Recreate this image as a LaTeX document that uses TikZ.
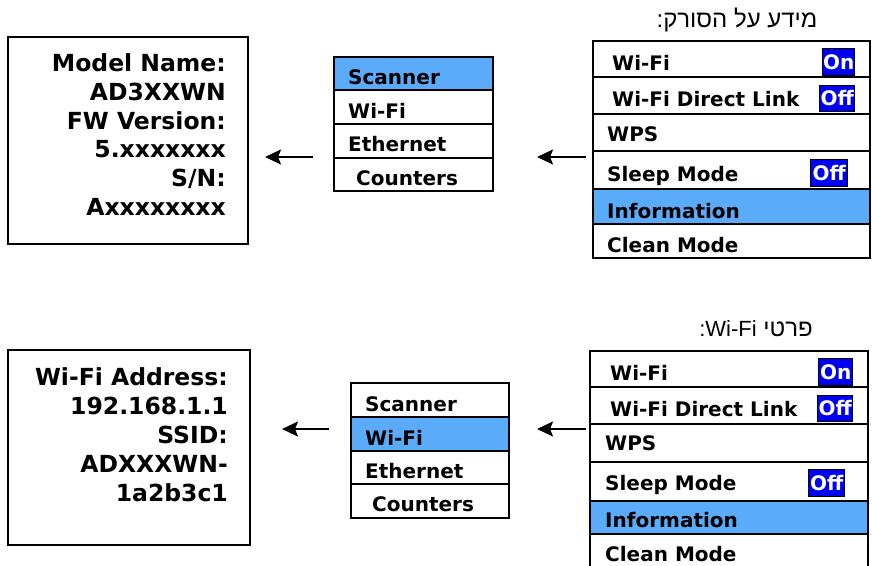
\documentclass[tikz,border=0pt]{standalone}
\usepackage{fontspec}
\setmainfont{DejaVu Sans}
\newfontfamily\hebfont[Script=Hebrew]{Liberation Sans}
\TeXXeTstate=1
\usetikzlibrary{arrows.meta}
\definecolor{selblue}{RGB}{90,172,250}
\definecolor{badgeblue}{RGB}{0,0,240}
\tikzset{
  rowbox/.style={draw=black, line width=2.2pt, inner sep=0pt, anchor=north west},
  panelbox/.style={draw=black, line width=2.2pt, inner sep=0pt, anchor=north west},
  itemtext/.style={anchor=base west, inner sep=0pt, font=\fontsize{20}{24}\selectfont\bfseries},
  infotext/.style={anchor=base east, inner sep=0pt, font=\fontsize{23.5}{28}\selectfont\bfseries},
  badge/.style={fill=badgeblue, draw=black, line width=1.3pt, text=white, inner sep=0pt,
    anchor=north west, font=\fontsize{20}{24}\selectfont\bfseries, text height=14pt, text depth=0pt},
  arr/.style={line width=2.2pt, -{Stealth[length=16pt, width=15pt, inset=3pt]}},
  title/.style={anchor=base, inner sep=0pt, font=\fontsize{24}{28}\selectfont\hebfont}
}
\begin{document}
\begin{tikzpicture}[x=1pt, y=-1pt]
\useasboundingbox (0,0) rectangle (872,565);
\clip (0,0) rectangle (872,565);
\fill[white] (0,0) rectangle (872,565);

% ---------- top panel ----------
\node[title] (t1) at (737,27) {\beginR מידע על הסורק:\endR};

% right menu
\node[rowbox, minimum width=277pt, minimum height=36pt] (ra1) at (592,40) {};
\node[rowbox, minimum width=277pt, minimum height=37pt] (ra2) at (592,76) {};
\node[rowbox, minimum width=277pt, minimum height=37pt] (ra3) at (592,113) {};
\node[rowbox, minimum width=277pt, minimum height=38pt] (ra4) at (592,150) {};
\node[rowbox, fill=selblue, minimum width=277pt, minimum height=35pt] (ra5) at (592,188) {};
\node[rowbox, minimum width=277pt, minimum height=34pt] (ra6) at (592,223) {};
\node[itemtext] (ta1) at (612,70.7) {Wi-Fi};
\node[itemtext] (ta2) at (612,106) {Wi-Fi Direct Link};
\node[itemtext] (ta3) at (607,141.7) {WPS};
\node[itemtext] (ta4) at (607,181.7) {Sleep Mode};
\node[itemtext] (ta5) at (607,218.3) {Information};
\node[itemtext] (ta6) at (607,252.3) {Clean Mode};
\node[badge, minimum width=32pt, minimum height=27pt] (ba1) at (822,48) {On};
\node[badge, minimum width=35pt, minimum height=26pt] (ba2) at (819,85) {Off};
\node[badge, minimum width=37pt, minimum height=27pt] (ba3) at (810,159) {Off};

% middle menu
\node[rowbox, fill=selblue, minimum width=159pt, minimum height=33pt] (ma1) at (333,56) {};
\node[rowbox, minimum width=159pt, minimum height=34pt] (ma2) at (333,89) {};
\node[rowbox, minimum width=159pt, minimum height=34pt] (ma3) at (333,123) {};
\node[rowbox, minimum width=159pt, minimum height=33pt] (ma4) at (333,157) {};
\node[itemtext] (tm1) at (348,84.3) {Scanner};
\node[itemtext] (tm2) at (348,118.3) {Wi-Fi};
\node[itemtext] (tm3) at (348,151) {Ethernet};
\node[itemtext] (tm4) at (356,185) {Counters};

% left box
\node[panelbox, minimum width=240pt, minimum height=207pt] (la) at (7,36) {};
\node[infotext] (l1) at (226,71.7) {Model Name:};
\node[infotext] (l2) at (226,100.4) {AD3XXWN};
\node[infotext] (l3) at (226,129.1) {FW Version:};
\node[infotext] (l4) at (226,157.8) {5.xxxxxxx};
\node[infotext] (l5) at (226,186.5) {S/N:};
\node[infotext] (l6) at (226,215.2) {Axxxxxxxx};

% arrows
\coordinate (a1s) at (586,157);
\coordinate (a1e) at (537,157);
\coordinate (a2s) at (313,157);
\coordinate (a2e) at (265,157);
\draw[arr] (a1s) -- (a1e);
\draw[arr] (a2s) -- (a2e);

% ---------- bottom panel ----------
\node[title] (t2) at (756,336) {\beginR פרטי \beginL{\fontsize{22}{26}\selectfont Wi-Fi}\endL{\fontsize{22}{26}\selectfont :}\endR};

\node[rowbox, minimum width=278pt, minimum height=36pt] (rb1) at (589,350) {};
\node[rowbox, minimum width=278pt, minimum height=37pt] (rb2) at (589,386) {};
\node[rowbox, minimum width=278pt, minimum height=38pt] (rb3) at (589,423) {};
\node[rowbox, minimum width=278pt, minimum height=39pt] (rb4) at (589,461) {};
\node[rowbox, fill=selblue, minimum width=278pt, minimum height=33pt] (rb5) at (589,500) {};
\node[rowbox, minimum width=278pt, minimum height=40pt] (rb6) at (589,533) {};
\node[itemtext] (tb1) at (610,380.7) {Wi-Fi};
\node[itemtext] (tb2) at (610,416) {Wi-Fi Direct Link};
\node[itemtext] (tb3) at (605,450.7) {WPS};
\node[itemtext] (tb4) at (605,490) {Sleep Mode};
\node[itemtext] (tb5) at (605,527.3) {Information};
\node[itemtext] (tb6) at (605,561.7) {Clean Mode};
\node[badge, minimum width=34pt, minimum height=27pt] (bb1) at (818,358) {On};
\node[badge, minimum width=35pt, minimum height=26pt] (bb2) at (817,395) {Off};
\node[badge, minimum width=36pt, minimum height=27pt] (bb3) at (808,469) {Off};

\node[rowbox, minimum width=158pt, minimum height=34pt] (mb1) at (350,382) {};
\node[rowbox, fill=selblue, minimum width=158pt, minimum height=34pt] (mb2) at (350,416) {};
\node[rowbox, minimum width=158pt, minimum height=33pt] (mb3) at (350,450) {};
\node[rowbox, minimum width=158pt, minimum height=34pt] (mb4) at (350,483) {};
\node[itemtext] (tmb1) at (365,411.7) {Scanner};
\node[itemtext] (tmb2) at (365,445) {Wi-Fi};
\node[itemtext] (tmb3) at (365,478.3) {Ethernet};
\node[itemtext] (tmb4) at (372,511.7) {Counters};

\node[panelbox, minimum width=242pt, minimum height=195pt] (lb) at (7,349) {};
\node[infotext] (k1) at (228,385) {Wi-Fi Address:};
\node[infotext] (k2) at (228,414) {192.168.1.1};
\node[infotext] (k3) at (228,443) {SSID:};
\node[infotext] (k4) at (228,472) {ADXXXWN-};
\node[infotext] (k5) at (228,501) {1a2b3c1};

\coordinate (b1s) at (586,429);
\coordinate (b1e) at (537,429);
\coordinate (b2s) at (329,429);
\coordinate (b2e) at (282,429);
\draw[arr] (b1s) -- (b1e);
\draw[arr] (b2s) -- (b2e);
\end{tikzpicture}
\end{document}
